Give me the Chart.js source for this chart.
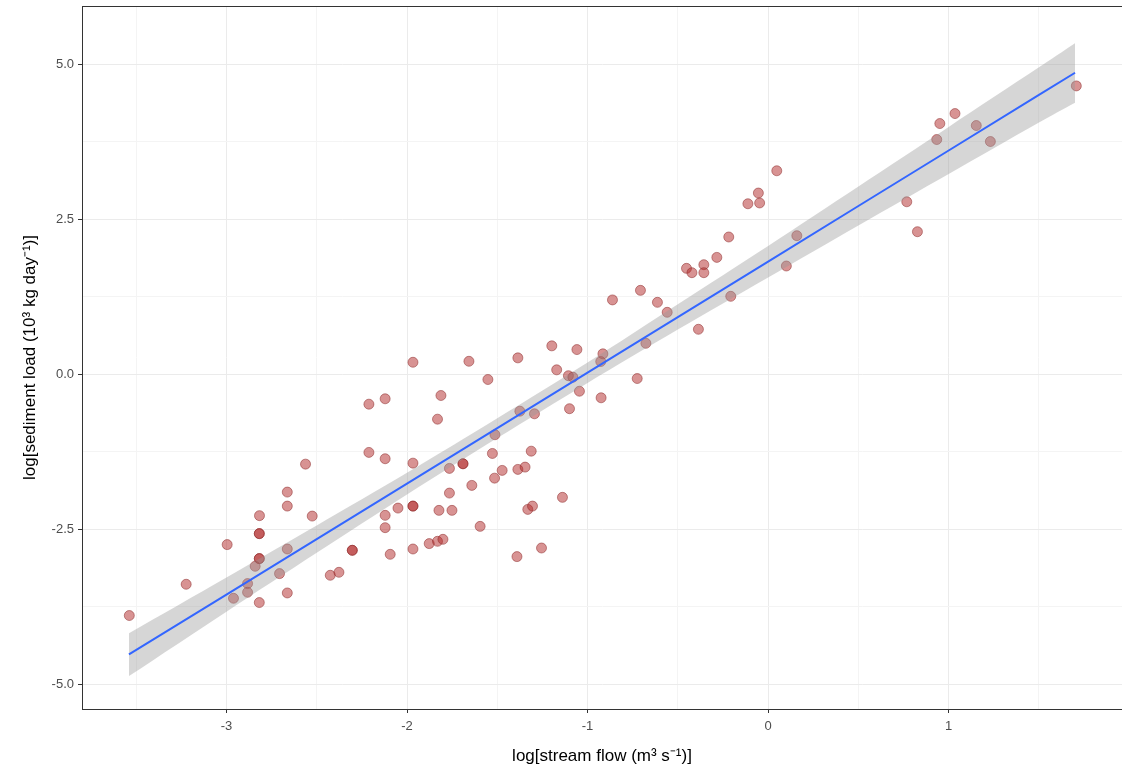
<!DOCTYPE html>
<html>
<head>
<meta charset="utf-8">
<script src="https://cdn.jsdelivr.net/npm/chart.js@4/dist/chart.umd.min.js"></script>
<style>
  html, body { margin: 0; padding: 0; background: #fff; overflow: hidden; }
  #wrap { width: 1128px; height: 771px; }
</style>
</head>
<body>
<div id="wrap"><canvas id="myChart"></canvas></div>
<script>
// stream flow (x) and sediment load (y)
var flowX = [
  -3.538, -3.223, -2.996, -2.818, -2.818, -2.818, -2.818, -2.841, -2.663, -2.706,
  -2.883, -2.883, -2.961, -2.818, -2.663, -2.303, -2.303, -2.425, -2.377, -2.663,
  -2.663, -2.817, -2.562, -2.525,
  -1.967, -1.657, -1.386, -1.198, -1.059, -1.171, -1.552, -1.106, -1.081, -1.045,
  -0.927, -0.915, -0.925, -2.211, -2.121, -1.812, -1.831, -1.375, -1.294, -1.100,
  -1.513, -2.211, -2.121, -1.967, -1.527, -1.312, -1.765, -1.690, -1.690, -1.473,
  -1.515, -1.386, -1.346, -1.641, -1.765, -2.121, -2.050, -1.967, -1.967, -1.823,
  -1.751, -1.595, -1.331, -1.305, -1.139, -2.121, -2.093, -1.967, -1.877, -1.831,
  -1.801, -1.391, -1.255,
  -0.112, -0.047, -0.054, 0.048, -0.218, -0.284, -0.452, -0.422, -0.356, -0.356,
  0.159, 0.101, -0.707, -0.862, -0.613, -0.559, -0.207, -0.386, -0.677, -0.725,
  1.707, 1.035, 0.951, 1.153, 0.934, 1.231, 0.768, 0.827
];
var sedimentY = [
  -3.892, -3.388, -2.748, -2.571, -2.571, -2.974, -2.974, -3.098, -2.819, -3.216,
  -3.377, -3.517, -3.614, -3.683, -3.528, -2.840, -2.840, -3.243, -3.195, -1.901,
  -2.127, -2.281, -1.450, -2.288,
  0.193, 0.209, 0.264, 0.458, 0.398, 0.071, -0.085, -0.024, -0.048, -0.274,
  0.205, 0.329, -0.380, -0.483, -0.396, -0.343, -0.725, -0.596, -0.638, -0.556,
  -0.976, -1.261, -1.363, -1.434, -1.278, -1.241, -1.519, -1.444, -1.444, -1.551,
  -1.676, -1.535, -1.498, -1.793, -1.917, -2.276, -2.159, -2.127, -2.127, -2.196,
  -2.196, -2.454, -2.180, -2.127, -1.986, -2.475, -2.905, -2.819, -2.732, -2.695,
  -2.663, -2.942, -2.803,
  2.750, 2.763, 2.923, 3.282, 2.214, 1.885, 1.708, 1.638, 1.767, 1.638,
  2.235, 1.746, 1.353, 1.199, 1.160, 0.999, 1.257, 0.725, 0.499, -0.069,
  4.651, 4.205, 4.044, 4.012, 3.786, 3.754, 2.782, 2.299
];

// fitted line and its confidence band
var bandX    = [-3.54, -3, -2.5, -2, -1.5, -1, -0.5, 0, 0.5, 1, 1.5, 1.70];
var fitY     = [-4.52, -3.555, -2.66, -1.764, -0.869, 0.027, 0.922, 1.818, 2.714, 3.609, 4.505, 4.863];
var bandLow  = [-4.87, -3.83, -2.88, -1.94, -1.03, -0.14, 0.72, 1.56, 2.40, 3.23, 4.06, 4.38];
var bandHigh = [-4.18, -3.28, -2.44, -1.59, -0.71, 0.19, 1.13, 2.07, 3.03, 3.99, 4.95, 5.34];

// axis breaks
var xMajor = [-3, -2, -1, 0, 1];
var xMinor = [-3.5, -2.5, -1.5, -0.5, 0.5, 1.5];
var yMajor = [-5, -2.5, 0, 2.5, 5];
var yMinor = [-3.75, -1.25, 1.25, 3.75];

function toXY(xs, ys) {
  return xs.map(function (x, i) { return { x: x, y: ys[i] }; });
}
function isMajor(list, v) {
  return list.some(function (m) { return Math.abs(m - v) < 1e-9; });
}

// panel border like theme_bw
var panelBorder = {
  id: 'panelBorder',
  afterDraw: function (chart) {
    var a = chart.chartArea, c = chart.ctx;
    c.save();
    c.strokeStyle = '#333333';
    c.lineWidth = 1;
    c.strokeRect(a.left + 0.5, a.top + 0.5, a.right - a.left + 20, a.bottom - a.top);
    c.restore();
  }
};

var ctx = document.getElementById('myChart').getContext('2d');
var myChart = new Chart(ctx, {
  type: 'scatter',
  data: {
    datasets: [
      {
        type: 'line',
        label: 'fit',
        data: toXY(bandX, fitY),
        borderColor: '#3366FF',
        borderWidth: 2,
        pointRadius: 0,
        fill: false,
        order: 1
      },
      {
        type: 'line',
        label: 'upper',
        data: toXY(bandX, bandHigh),
        borderWidth: 0,
        borderColor: 'rgba(0,0,0,0)',
        pointRadius: 0,
        tension: 0.3,
        fill: '+1',
        backgroundColor: 'rgba(153,153,153,0.4)',
        order: 2
      },
      {
        type: 'line',
        label: 'lower',
        data: toXY(bandX, bandLow),
        borderWidth: 0,
        borderColor: 'rgba(0,0,0,0)',
        pointRadius: 0,
        tension: 0.3,
        fill: false,
        order: 2
      },
      {
        label: 'obs',
        data: toXY(flowX, sedimentY),
        backgroundColor: 'rgba(178,40,40,0.5)',
        borderColor: 'rgba(140,40,40,0.5)',
        borderWidth: 1,
        pointRadius: 5,
        order: 3
      }
    ]
  },
  options: {
    responsive: true,
    maintainAspectRatio: false,
    animation: false,
    layout: { padding: { left: 0, right: 0, top: 5, bottom: 0 } },
    plugins: {
      legend: { display: false },
      tooltip: { enabled: false }
    },
    scales: {
      x: {
        type: 'linear',
        min: -3.80,
        max: 1.96,
        afterBuildTicks: function (scale) {
          scale.ticks = xMinor.concat(xMajor).sort(function (a, b) { return a - b; })
            .map(function (v) { return { value: v }; });
        },
        afterFit: function (scale) {
          scale.height = 62;
          scale.paddingLeft = 0;
          scale.paddingRight = 0;
        },
        grid: {
          color: function (c) { return isMajor(xMajor, c.tick.value) ? '#ebebeb' : '#f4f4f4'; },
          tickColor: function (c) { return isMajor(xMajor, c.tick.value) ? '#333333' : 'rgba(0,0,0,0)'; },
          tickLength: 4
        },
        border: { display: true, color: '#333333' },
        ticks: {
          autoSkip: false,
          maxRotation: 0,
          padding: 6,
          color: '#4d4d4d',
          font: { family: 'Liberation Sans', size: 13 },
          callback: function (v) { return isMajor(xMajor, v) ? String(v) : ''; }
        },
        title: {
          display: true,
          text: 'log[stream flow (m³ s⁻¹)]',
          color: '#000',
          font: { family: 'Liberation Sans', size: 17 },
          padding: { top: 4, bottom: 4 }
        }
      },
      y: {
        type: 'linear',
        min: -5.40,
        max: 5.94,
        afterBuildTicks: function (scale) {
          scale.ticks = yMinor.concat(yMajor).sort(function (a, b) { return a - b; })
            .map(function (v) { return { value: v }; });
        },
        afterFit: function (scale) {
          scale.width = 82;
          scale.paddingTop = 0;
          scale.paddingBottom = 0;
        },
        grid: {
          color: function (c) { return isMajor(yMajor, c.tick.value) ? '#ebebeb' : '#f4f4f4'; },
          tickColor: function (c) { return isMajor(yMajor, c.tick.value) ? '#333333' : 'rgba(0,0,0,0)'; },
          tickLength: 4
        },
        border: { display: true, color: '#333333' },
        ticks: {
          autoSkip: false,
          padding: 4,
          color: '#4d4d4d',
          font: { family: 'Liberation Sans', size: 13 },
          callback: function (v) { return isMajor(yMajor, v) ? v.toFixed(1) : ''; }
        },
        title: {
          display: true,
          text: 'log[sediment load (10³ kg day⁻¹)]',
          color: '#000',
          font: { family: 'Liberation Sans', size: 17 },
          padding: { top: 20, bottom: 8 }
        }
      }
    }
  },
  plugins: [panelBorder]
});
</script>
</body>
</html>
